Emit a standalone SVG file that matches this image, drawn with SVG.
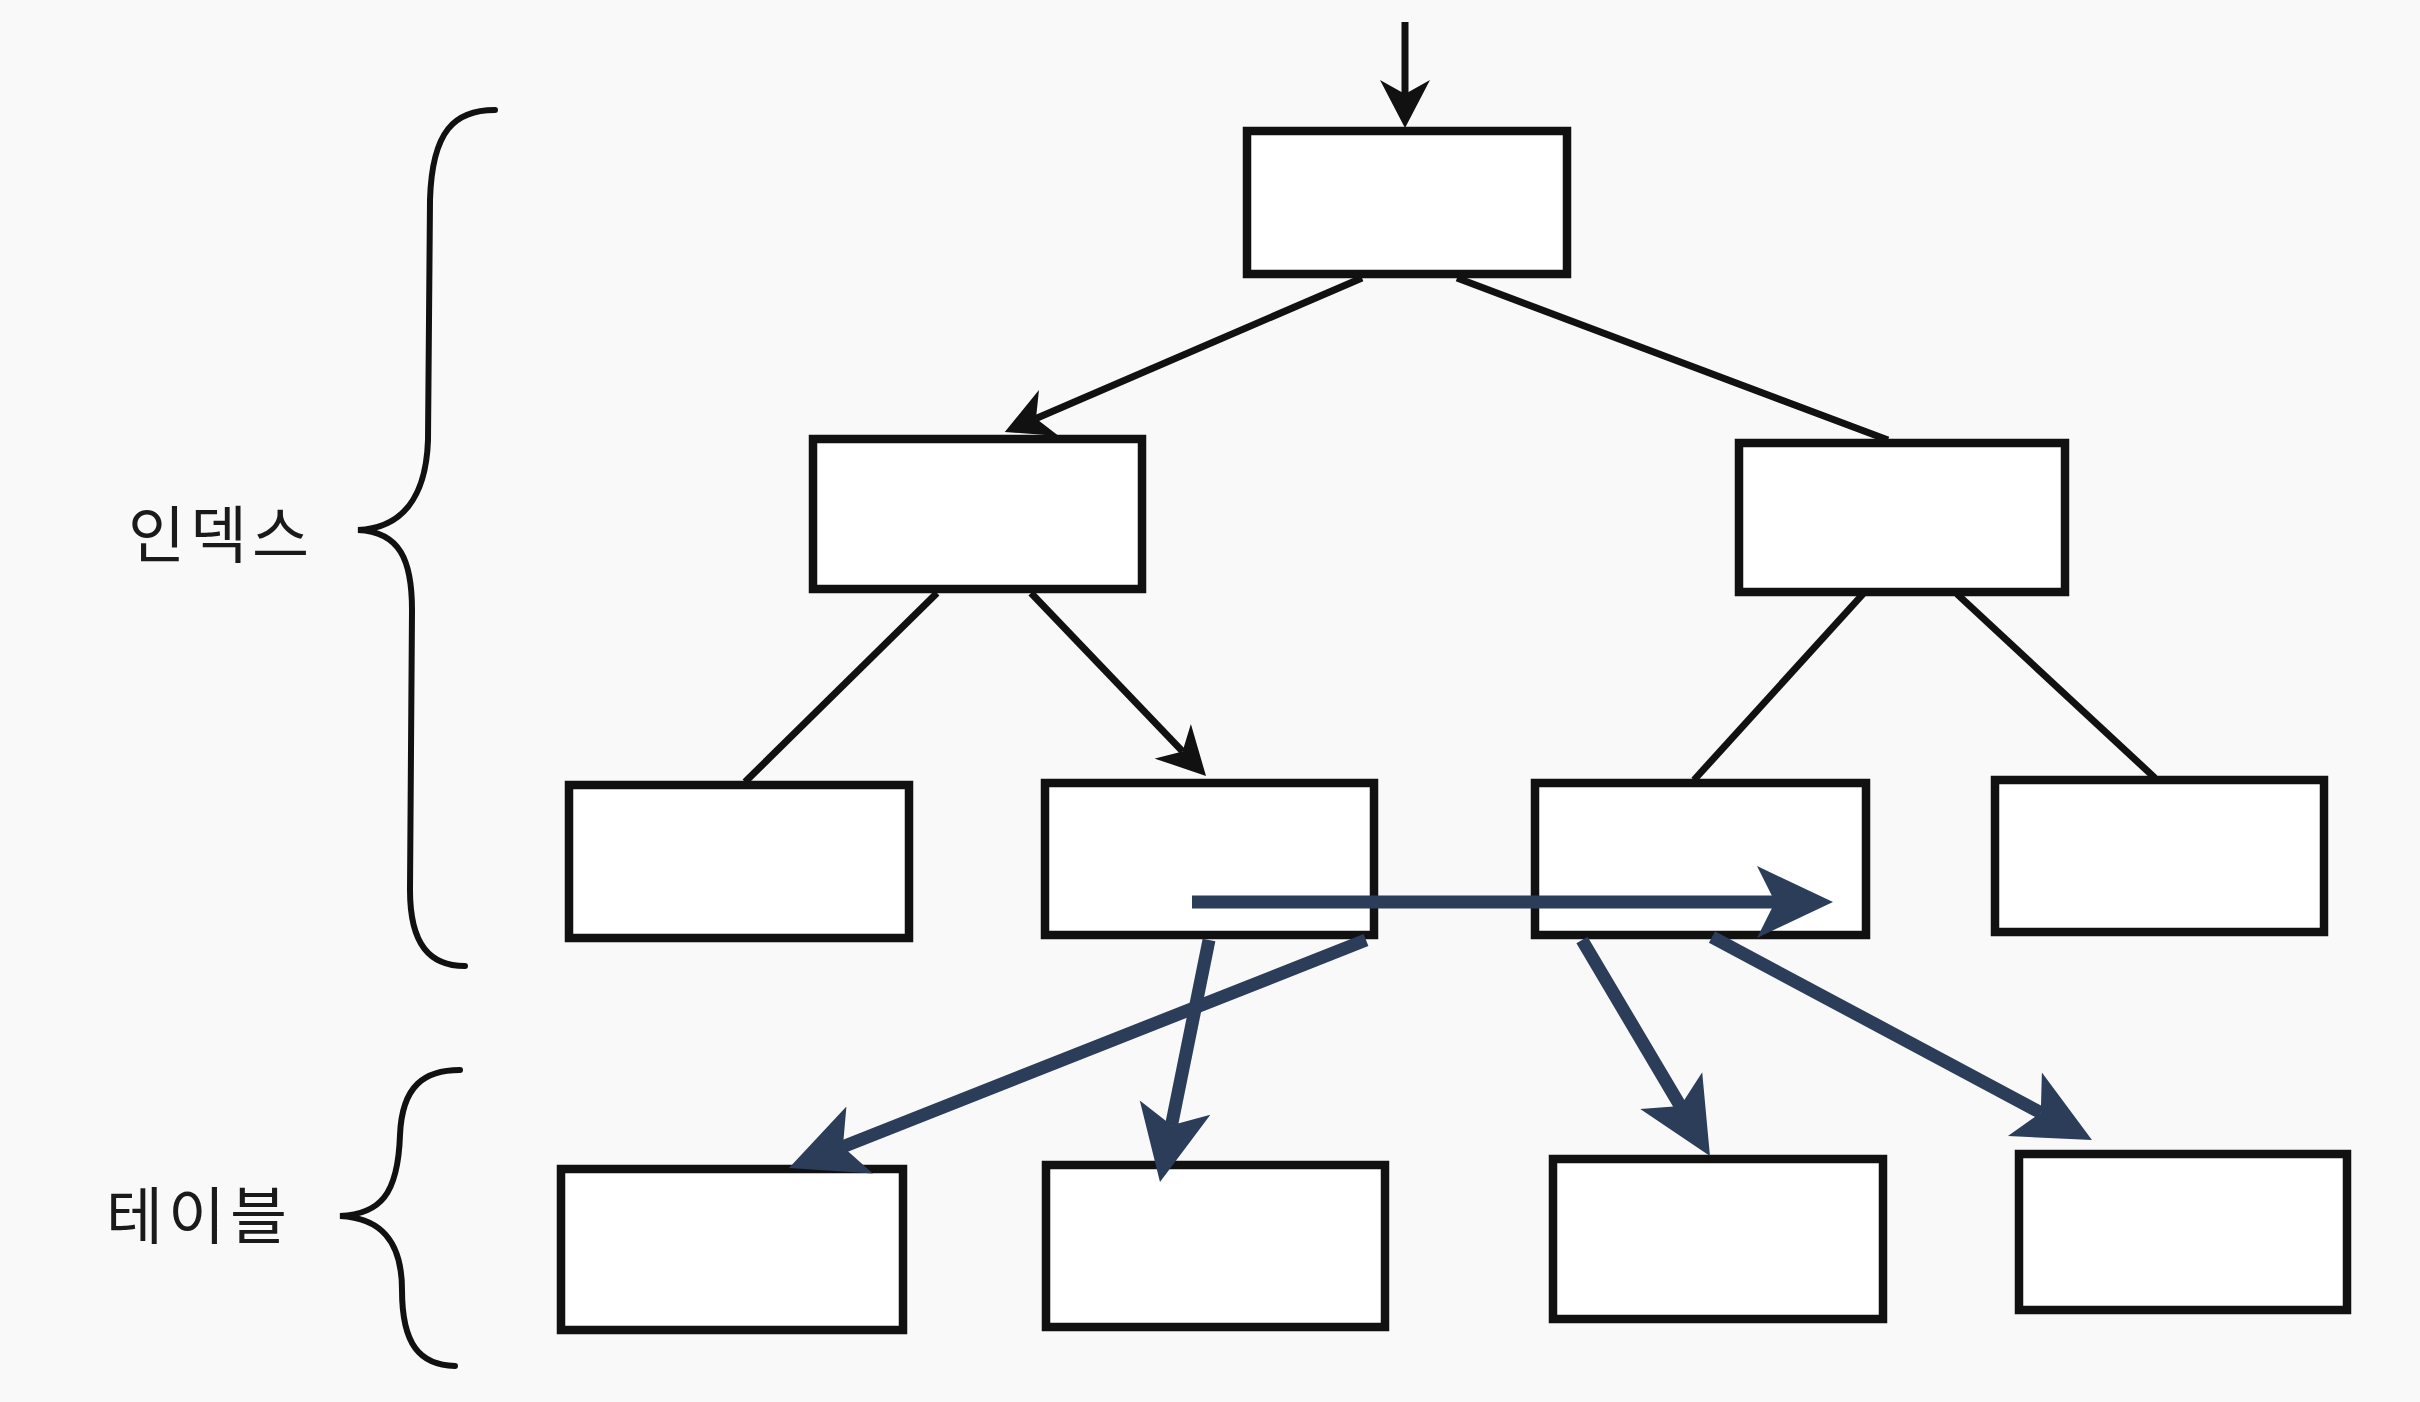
<svg xmlns="http://www.w3.org/2000/svg" width="2420" height="1402" viewBox="0 0 2420 1402">
<style>
.box{fill:#ffffff;stroke:#111111;stroke-width:8.5}
.ln{stroke:#111111;stroke-width:7;fill:none}
.bl{stroke:#2b3d58;stroke-width:13;fill:none}
.brace{stroke:#111111;stroke-width:6;fill:none;stroke-linecap:round}
.lbl{font-family:"Noto Sans CJK KR","Noto Sans",sans-serif;font-size:62px;font-weight:400;fill:#1a1a1a;letter-spacing:5px}
</style>
<defs>
<marker id="ah" viewBox="0 0 50 50" refX="14" refY="25" markerWidth="50" markerHeight="50" markerUnits="userSpaceOnUse" orient="auto">
<path d="M48,25 L0,0 L14,25 L0,50 Z" fill="#111111"/>
</marker>
<marker id="bh" viewBox="0 0 80 80" refX="18" refY="40" markerWidth="80" markerHeight="80" markerUnits="userSpaceOnUse" orient="auto">
<path d="M76,40 L0,4 L18,40 L0,76 Z" fill="#2b3d58"/>
</marker>
</defs>
<rect width="2420" height="1402" fill="#f9f9f9"/>
<g id="labels">
<path class="brace" d="M495,110 C455,110 432,130 430,200 L428,440 C426,500 400,528 358,530 C400,532 412,560 412,610 L410,890 C410,945 430,966 465,966"/>
<path class="brace" d="M460,1070 C425,1070 402,1085 400,1135 C398,1195 380,1214 340,1216 C380,1218 402,1240 402,1290 C402,1345 420,1365 455,1366"/>
<text class="lbl" x="128" y="558">인덱스</text>
<text class="lbl" x="106" y="1239">테이블</text>
</g>
<g id="connectors">
<line class="ln" x1="1405" y1="22" x2="1405" y2="94" marker-end="url(#ah)"/>
<line class="ln" x1="1362" y1="278" x2="1036" y2="418.5" marker-end="url(#ah)"/>
<line class="ln" x1="1457" y1="278" x2="1888" y2="440"/>
<line class="ln" x1="937" y1="593" x2="745" y2="782"/>
<line class="ln" x1="1031" y1="593" x2="1182.5" y2="751.4" marker-end="url(#ah)"/>
<line class="ln" x1="1863" y1="594" x2="1694" y2="780"/>
<line class="ln" x1="1957" y1="594" x2="2155" y2="778"/>
</g>
<g id="n-root"><rect class="box" x="1247" y="131" width="320" height="143"/></g>
<g id="n-l2-left"><rect class="box" x="813" y="439" width="329" height="150"/></g>
<g id="n-l2-right"><rect class="box" x="1739" y="443" width="326" height="149"/></g>
<g id="n-leaf-1"><rect class="box" x="569" y="785" width="340" height="153"/></g>
<g id="n-leaf-2"><rect class="box" x="1045" y="783" width="329" height="152"/></g>
<g id="n-leaf-3"><rect class="box" x="1535" y="783" width="331" height="152"/></g>
<g id="n-leaf-4"><rect class="box" x="1995" y="780" width="329" height="152"/></g>
<g id="n-table-1"><rect class="box" x="561" y="1169" width="342" height="161"/></g>
<g id="n-table-2"><rect class="box" x="1046" y="1165" width="339" height="162"/></g>
<g id="n-table-3"><rect class="box" x="1553" y="1159" width="330" height="160"/></g>
<g id="n-table-4"><rect class="box" x="2019" y="1154" width="328" height="156"/></g>
<g id="pointers">
<line class="bl" x1="1192" y1="902" x2="1775" y2="902" marker-end="url(#bh)"/>
<line class="bl" x1="1209" y1="940" x2="1171.5" y2="1125.2" marker-end="url(#bh)"/>
<line class="bl" x1="1366" y1="940" x2="842.9" y2="1146.7" marker-end="url(#bh)"/>
<line class="bl" x1="1582" y1="940" x2="1680.4" y2="1106.1" marker-end="url(#bh)"/>
<line class="bl" x1="1712" y1="937" x2="2040.8" y2="1112.7" marker-end="url(#bh)"/>
</g>
</svg>
